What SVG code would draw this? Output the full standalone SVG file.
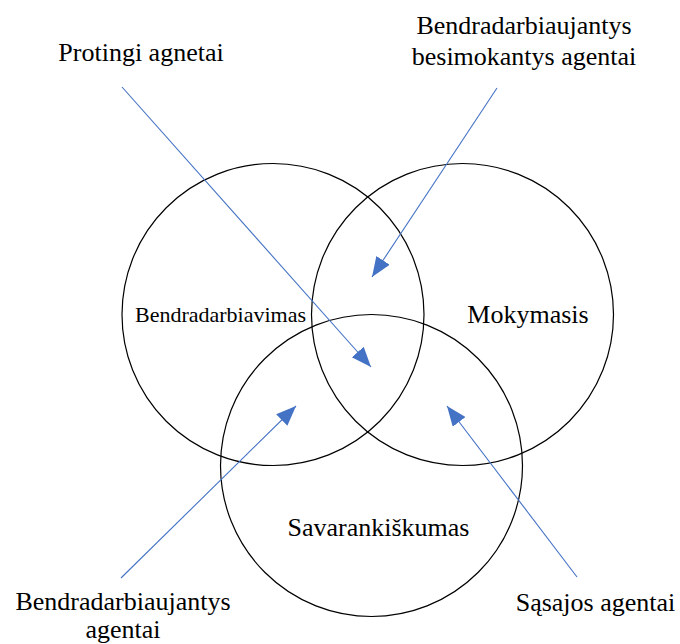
<svg xmlns="http://www.w3.org/2000/svg" width="680" height="644" viewBox="0 0 680 644">
  <style>
    .ring { fill: none; stroke: #000000; stroke-width: 1.2; }
    .lbl { font-size: 26px; fill: #000000; text-anchor: middle; }
    .small { font-size: 22px; }
    .link { stroke: #4472C4; stroke-width: 1.1; fill: none; marker-end: url(#head); }
  </style>
  <defs>
    <marker id="head" markerUnits="userSpaceOnUse" markerWidth="22" markerHeight="18" refX="20" refY="8" orient="auto">
      <path d="M0,0 L20,8 L0,16 z" fill="#4472C4"/>
    </marker>
  </defs>

  <rect width="680" height="644" fill="#ffffff"/>

  <g font-family="'Liberation Serif', 'DejaVu Serif', serif">
    <!-- three overlapping sets -->
    <g id="set-bendradarbiavimas">
      <circle class="ring" cx="273" cy="314.5" r="151"/>
      <text class="lbl small" x="220.5" y="322">Bendradarbiavimas</text>
    </g>
    <g id="set-mokymasis">
      <circle class="ring" cx="462.5" cy="314.5" r="151"/>
      <text class="lbl" x="528" y="323">Mokymasis</text>
    </g>
    <g id="set-savarankiskumas">
      <circle class="ring" cx="371.5" cy="465.5" r="151"/>
      <text class="lbl" x="378.5" y="536">Savarankiškumas</text>
    </g>

    <!-- agent type captions -->
    <g id="agent-protingi">
      <text class="lbl" x="141" y="61">Protingi agnetai</text>
    </g>
    <g id="agent-bendradarbiaujantys-besimokantys">
      <text class="lbl" x="524" y="34">Bendradarbiaujantys</text>
      <text class="lbl" x="524" y="65">besimokantys agentai</text>
    </g>
    <g id="agent-bendradarbiaujantys">
      <text class="lbl" x="123" y="610">Bendradarbiaujantys</text>
      <text class="lbl" x="123" y="638">agentai</text>
    </g>
    <g id="agent-sasajos">
      <text class="lbl" x="595.5" y="611">Sąsajos agentai</text>
    </g>
  </g>

  <!-- pointers into the set intersections -->
  <g id="connectors">
    <line class="link" x1="122" y1="87" x2="371" y2="367"/>
    <line class="link" x1="497" y1="88" x2="372" y2="277"/>
    <line class="link" x1="121" y1="578" x2="296" y2="406"/>
    <line class="link" x1="577" y1="577" x2="447" y2="406"/>
  </g>
</svg>
